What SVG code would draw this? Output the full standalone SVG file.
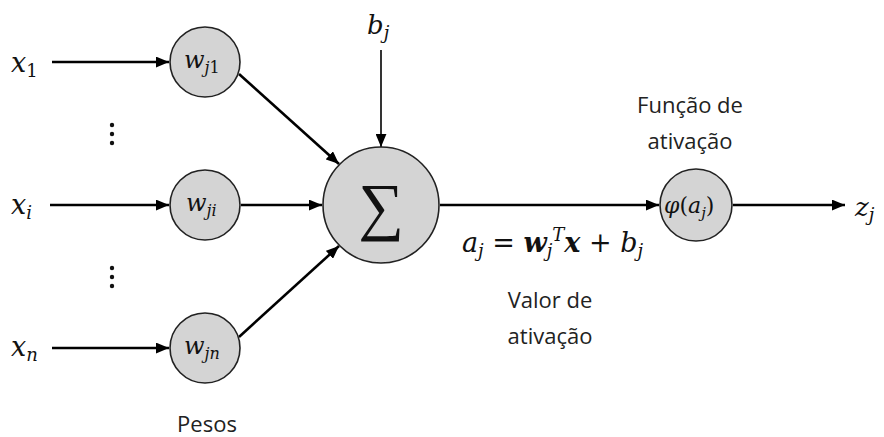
<svg xmlns="http://www.w3.org/2000/svg" width="884" height="437" viewBox="0 0 884 437">
<defs>
<style>
.node{fill:#d4d4d4;stroke:#222;stroke-width:1.6}
.m{font-family:"DejaVu Serif","Liberation Serif",serif;font-style:italic;fill:#111}
.r{font-style:normal}
.lbl{font-family:"Open Sans","Noto Sans","Liberation Sans",sans-serif;font-size:22px;fill:#222;text-anchor:middle}
.c{stroke:#000;stroke-width:2.6;fill:none}
.cthin{stroke:#000;stroke-width:1.6;fill:none}
</style>
<marker id="ah" viewBox="0 0 12 10" refX="12" refY="5" markerWidth="13" markerHeight="11" markerUnits="userSpaceOnUse" orient="auto"><path d="M0,0 L12,5 L0,10 z" fill="#000"/></marker>
</defs>
<rect width="884" height="437" fill="#fff"/>
<g id="connectors">
<line class="c" x1="52" y1="62" x2="169" y2="62" marker-end="url(#ah)"/>
<line class="c" x1="50" y1="205" x2="169" y2="205" marker-end="url(#ah)"/>
<line class="c" x1="52" y1="348" x2="169" y2="348" marker-end="url(#ah)"/>
<line class="c" x1="239" y1="74" x2="339" y2="164" marker-end="url(#ah)"/>
<line class="c" x1="241" y1="205" x2="322" y2="205" marker-end="url(#ah)"/>
<line class="c" x1="239" y1="337" x2="339" y2="246" marker-end="url(#ah)"/>
<line class="cthin" x1="381" y1="50" x2="381" y2="147" marker-end="url(#ah)"/>
<line class="c" x1="440" y1="205" x2="659" y2="205" marker-end="url(#ah)"/>
<line class="c" x1="733" y1="205" x2="845" y2="205" marker-end="url(#ah)"/>
</g>
<g id="x1"><text class="m" x="11" y="72" font-size="27">x<tspan class="r" font-size="18" dy="5">1</tspan></text></g>
<g id="xi"><text class="m" x="11" y="214" font-size="27">x<tspan font-size="18" dy="5">i</tspan></text></g>
<g id="xn"><text class="m" x="11" y="356" font-size="27">x<tspan font-size="18" dy="5">n</tspan></text></g>
<g id="dots1" fill="#111"><circle cx="112" cy="125" r="2.2"/><circle cx="112" cy="134" r="2.2"/><circle cx="112" cy="143" r="2.2"/></g>
<g id="dots2" fill="#111"><circle cx="112" cy="268" r="2.2"/><circle cx="112" cy="277" r="2.2"/><circle cx="112" cy="286" r="2.2"/></g>
<g id="wj1"><circle class="node" cx="205" cy="62" r="35"/><text class="m" x="184" y="68" font-size="24">w<tspan font-size="16" dy="5">j</tspan><tspan class="r" font-size="16">1</tspan></text></g>
<g id="wji"><circle class="node" cx="205" cy="205" r="35"/><text class="m" x="186" y="211" font-size="24">w<tspan font-size="16" dy="5">ji</tspan></text></g>
<g id="wjn"><circle class="node" cx="205" cy="348" r="35"/><text class="m" x="184" y="354" font-size="24">w<tspan font-size="16" dy="5">jn</tspan></text></g>
<g id="sum"><circle class="node" cx="381" cy="205" r="58"/><text x="381" y="228" font-family="Liberation Serif,DejaVu Serif,serif" font-size="64" text-anchor="middle" fill="#111">∑</text></g>
<g id="bias"><text class="m" x="367" y="34" font-size="26">b<tspan font-size="18" dy="5">j</tspan></text></g>
<g id="phi"><circle class="node" cx="696" cy="205" r="36"/><text class="m" x="664" y="213" font-size="22">φ<tspan class="r">(</tspan>a<tspan font-size="15" dy="5">j</tspan><tspan class="r" dy="-5">)</tspan></text></g>
<g id="zj"><text class="m" x="855" y="216" font-size="26">z<tspan font-size="18" dy="5">j</tspan></text></g>
<g id="eq"><text class="m" x="462" y="252" font-size="27">a<tspan font-size="18" dy="5">j</tspan><tspan class="r" dy="-5"> = </tspan><tspan font-weight="bold">w</tspan><tspan font-size="18" dy="5">j</tspan><tspan font-size="18" dy="-16">T</tspan><tspan font-weight="bold" dy="11">x</tspan><tspan class="r"> + </tspan>b<tspan font-size="18" dy="5">j</tspan></text></g>
<g id="lbl-func"><text class="lbl" x="690" y="113">Função de</text><text class="lbl" x="690" y="149">ativação</text></g>
<g id="lbl-valor"><text class="lbl" x="550" y="308">Valor de</text><text class="lbl" x="550" y="344">ativação</text></g>
<g id="lbl-pesos"><text class="lbl" x="207" y="432">Pesos</text></g>
</svg>
